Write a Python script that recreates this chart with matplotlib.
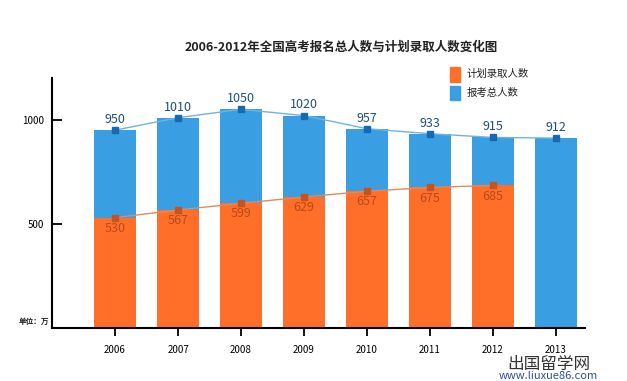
import numpy as np
import matplotlib.pyplot as plt

plt.rcParams['font.family'] = ['Noto Sans CJK SC', 'DejaVu Sans']

years = ["2006", "2007", "2008", "2009", "2010", "2011", "2012", "2013"]
total = [950, 1010, 1050, 1020, 957, 933, 915, 912]
admit = [530, 567, 599, 629, 657, 675, 685]

blue = "#3a9ee2"
orange = "#ff6f2a"

fig = plt.figure(figsize=(6.27, 3.81), dpi=100)
ax = fig.add_axes([0.083, 0.139, 0.85, 0.656])

x = np.arange(len(years))
xa = x[:len(admit)]
ax.bar(x, total, width=0.67, color=blue, zorder=1)
ax.bar(xa, admit, width=0.67, color=orange, zorder=2)

ax.plot(x, total, color="#6fb3e3", lw=1, zorder=3)
ax.plot(x, total, "s", color="#1769b0", ms=5, zorder=4)
ax.plot(xa, admit, color="#e08a5e", lw=1, zorder=3)
ax.plot(xa, admit, "s", color="#c4531d", ms=5, zorder=4)

for xi, v in zip(x, total):
    ax.annotate(str(v), (xi, v), xytext=(0, 3), textcoords="offset points",
                ha="center", va="bottom", fontsize=9, color="#1d4f7c", zorder=5)
for xi, v in zip(xa, admit):
    ax.annotate(str(v), (xi, v), xytext=(0, -3), textcoords="offset points",
                ha="center", va="top", fontsize=9, color="#b94a17", zorder=5)

ax.set_xlim(-1.0, 7.46)
ax.set_ylim(0, 1200)
ax.set_xticks(x)
ax.set_xticklabels(years, fontsize=7)
ax.set_yticks([500, 1000])
ax.set_yticklabels(["500", "1000"], fontsize=7)
ax.tick_params(axis="x", direction="out", length=6, width=1.3, pad=6)
ax.tick_params(axis="y", direction="in", length=7, width=1.3, pad=6)
for s in ["top", "right"]:
    ax.spines[s].set_visible(False)
for s in ["left", "bottom"]:
    ax.spines[s].set_linewidth(1.5)

fig.text(0.545, 0.875, "2006-2012年全国高考报名总人数与计划录取人数变化图",
         ha="center", va="center", fontsize=9, fontweight="bold", color="#222222")

# legend
fig.patches.append(plt.Rectangle((0.718, 0.786), 0.016, 0.037, transform=fig.transFigure,
                                 color=orange, figure=fig))
fig.patches.append(plt.Rectangle((0.718, 0.738), 0.016, 0.037, transform=fig.transFigure,
                                 color=blue, figure=fig))
fig.text(0.744, 0.805, "计划录取人数", fontsize=7.5, va="center", color="#222222")
fig.text(0.744, 0.757, "报考总人数", fontsize=7.5, va="center", color="#222222")

fig.text(0.03, 0.155, "单位：万", fontsize=5.5, fontweight="bold", va="center", color="#222222")

# watermark
fig.text(0.875, 0.044, "出国留学网", fontsize=12, ha="center", va="center", color="#333333")
fig.text(0.875, 0.012, "www.liuxue86.com", fontsize=8, ha="center", va="center", color="#2b4fa0")

fig.savefig("out.png", dpi=100)
